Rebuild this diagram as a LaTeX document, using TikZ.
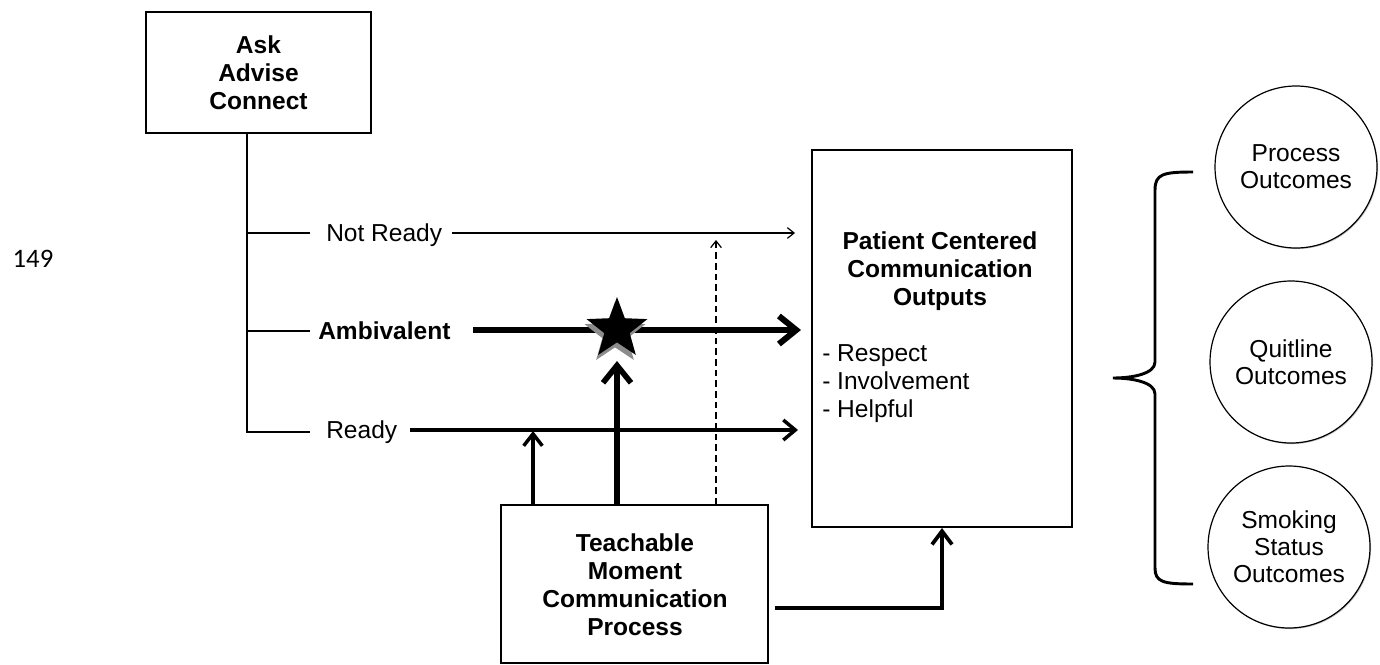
\documentclass[tikz,border=0pt]{standalone}
\usepackage{fontspec}
\setmainfont{Liberation Sans}
\newfontfamily\numfont{Carlito}
\usetikzlibrary{arrows.meta,shapes.geometric,shadows}

\begin{document}
\begin{tikzpicture}[x=0.75pt,y=-0.75pt,
  txt/.style={font=\fontsize{18.4}{21}\selectfont, inner sep=0pt, align=left},
  btxt/.style={font=\fontsize{18.4}{21}\selectfont\bfseries, inner sep=0pt, align=center},
  box/.style={draw, line width=0.9pt, fill=white, inner sep=0pt,
    drop shadow={shadow xshift=1pt, shadow yshift=-1pt, fill=black!40, opacity=0.8}},
  outc/.style={circle, draw, line width=0.9pt, fill=white, minimum size=121.5pt, inner sep=0pt,
    align=center, font=\fontsize{18.4}{20.3}\selectfont,
    drop shadow={shadow xshift=0.8pt, shadow yshift=-0.8pt, fill=black!30, opacity=0.8}},
  thinarr/.style={line width=0.9pt, -{Straight Barb[length=5pt,width=8pt]}},
  midarr/.style={line width=2.6pt, -{Straight Barb[length=9pt,width=15pt]}},
  bigarr/.style={line width=4.5pt, -{Straight Barb[length=13pt,width=21pt]}},
  tree/.style={line width=0.9pt},
]
\path[use as bounding box] (0,0) rectangle (1380,664);

% line number
\node[font=\numfont\fontsize{20}{22}\selectfont, inner sep=0pt] (ln) at (33,259) {149};

% boxes
\node[box, minimum width=168.75pt, minimum height=90.75pt] (ask) at (258.5,72.5) {};
\node[btxt] (askt) at (ask.center) {Ask\\Advise\\Connect};

\node[box, minimum width=200.25pt, minimum height=118.5pt] (teach) at (634.5,584) {};
\node[btxt] (teacht) at (635,585) {Teachable\\Moment\\Communication\\Process};

\node[box, minimum width=195pt, minimum height=282.75pt] (pcc) at (942,338.5) {};
\node[btxt] (pcct) at (940,271) {Patient Centered\\Communication\\Outputs};
\node[txt, anchor=west] (pccl) at (822,384) {- Respect\\- Involvement\\- Helpful};

% outcome circles
\node[outc] (c1) at (1296,167) {Process\\Outcomes};
\node[outc] (c2) at (1291,362) {Quitline\\Outcomes};
\node[outc] (c3) at (1289,547) {Smoking\\Status\\Outcomes};

% tree from Ask box
\coordinate (tb) at (247,432);
\coordinate (b1) at (310,233);
\coordinate (b2) at (310,331);
\coordinate (b3) at (310,432);
\draw[tree] (ask.south -| tb) -- (tb) -- (b3);
\draw[tree] (b1 -| tb) -- (b1);
\draw[tree] (b2 -| tb) -- (b2);

% labels
\node[txt, anchor=west] (nr) at (326,235) {Not Ready};
\node[btxt, anchor=west] (amb) at (318,331) {Ambivalent};
\node[txt, anchor=west] (rd) at (326,432) {Ready};

% horizontal arrows
\coordinate (nrS) at (452,233);
\coordinate (nrE) at (795,233);
\coordinate (amS) at (473,330);
\coordinate (amE) at (801,330);
\coordinate (rdS) at (410,430);
\coordinate (rdE) at (798,430);
\draw[thinarr] (nrS) -- (nrE);
\draw[bigarr] (amS) -- (amE);
\draw[midarr] (rdS) -- (rdE);

% star
\node[star, star points=5, star point ratio=2.4, fill=black!45, minimum size=48pt, inner sep=0pt] (starsh) at (615,334) {};
\node[star, star points=5, star point ratio=2.4, fill=black, minimum size=48pt, inner sep=0pt] (star) at (617,329) {};

% vertical arrows from Teachable box
\coordinate (u1) at (533,431);
\coordinate (u2) at (617,361);
\coordinate (u3) at (716,240);
\draw[line width=2.6pt, -{Straight Barb[length=9pt,width=14pt]}] (teach.north -| u1) -- (u1);
\draw[line width=4.2pt, -{Straight Barb[length=13pt,width=21pt]}] (teach.north -| u2) -- (u2);
\draw[line width=0.9pt, dashed, dash pattern=on 5pt off 3pt, -{Straight Barb[length=5pt,width=8pt]}] (teach.north -| u3) -- (u3);

% Teachable -> PCC
\coordinate (tr) at (775,608);
\coordinate (pb) at (942,528);
\draw[line width=2.8pt, -{Straight Barb[length=10pt,width=15pt]}] (tr) -- (tr -| pb) -- (pb);

% brace
\coordinate (brt) at (1193,172);
\coordinate (brm) at (1113,378);
\coordinate (brb) at (1193,584);
\draw[line width=2.2pt] (brt) .. controls (1163,172) and (1155,174) .. (1155,190)
  -- (1155,362) .. controls (1155,374) and (1132,378) .. (brm)
  .. controls (1132,378) and (1155,382) .. (1155,394)
  -- (1155,568) .. controls (1155,582) and (1163,584) .. (brb);
\end{tikzpicture}
\end{document}
